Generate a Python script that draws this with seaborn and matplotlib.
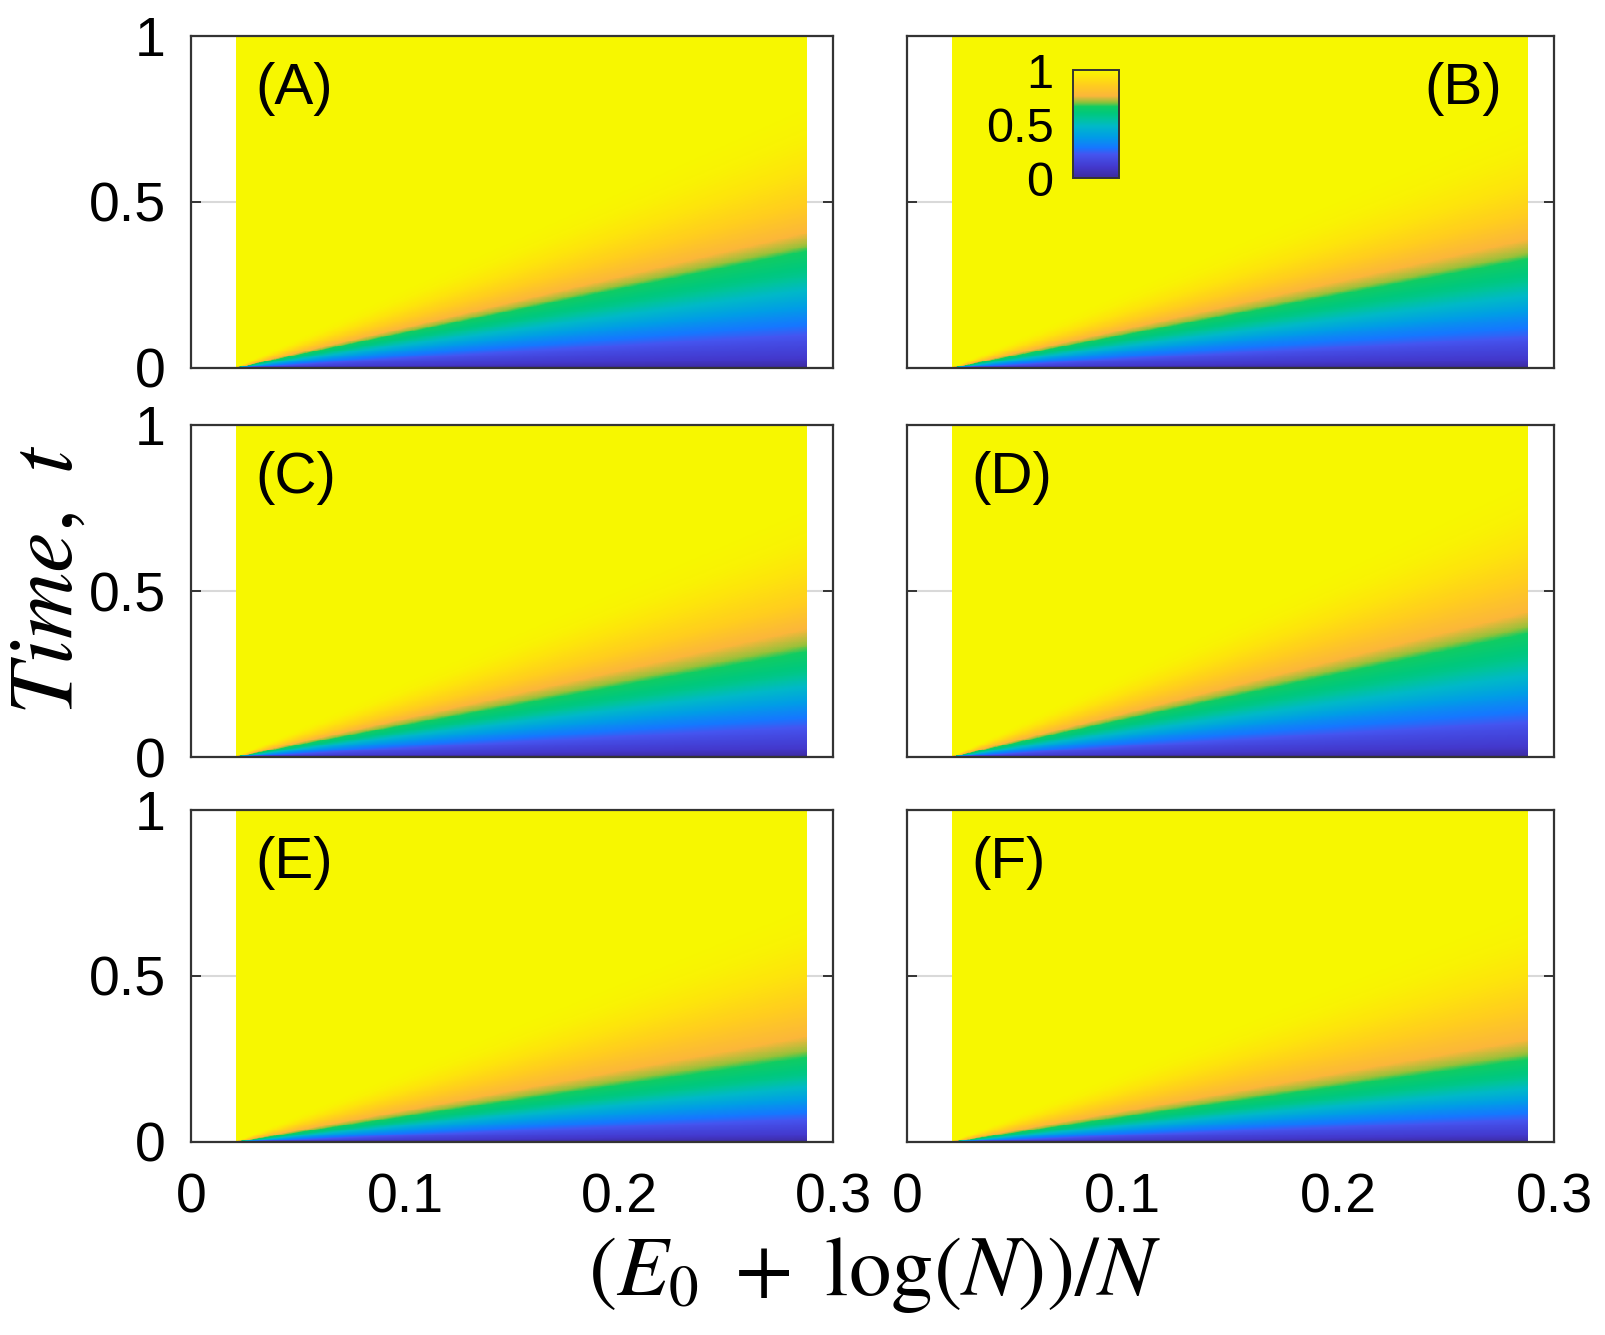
import numpy as np
import pandas as pd
import matplotlib
matplotlib.use("Agg")
import matplotlib.pyplot as plt
from matplotlib.colors import LinearSegmentedColormap
import seaborn as sns

# ---------------- data ----------------
panel_names = ["(A)", "(B)", "(C)", "(D)", "(E)", "(F)"]
# value levels of the field and the time at which each level is reached
# along the right edge of the data (x = 0.29) in each panel
levels = [0.0, 0.10, 0.18, 0.24, 0.33, 0.45, 0.58, 0.66, 0.71, 0.77, 0.86, 0.93, 0.98, 1.0]
t_A = [0, 0.030, 0.080, 0.110, 0.160, 0.220, 0.290, 0.355, 0.375, 0.420, 0.500, 0.600, 0.700, 0.800]
t_B = [0, 0.028, 0.074, 0.100, 0.150, 0.205, 0.270, 0.330, 0.350, 0.400, 0.470, 0.560, 0.660, 0.760]
t_C = [0, 0.027, 0.072, 0.100, 0.145, 0.200, 0.260, 0.320, 0.345, 0.400, 0.470, 0.570, 0.660, 0.760]
t_D = [0, 0.032, 0.085, 0.115, 0.170, 0.230, 0.305, 0.375, 0.400, 0.450, 0.540, 0.640, 0.740, 0.840]
t_E = [0, 0.022, 0.055, 0.075, 0.110, 0.155, 0.205, 0.256, 0.280, 0.330, 0.420, 0.520, 0.620, 0.720]
t_F = [0, 0.021, 0.054, 0.073, 0.108, 0.150, 0.200, 0.250, 0.272, 0.320, 0.410, 0.510, 0.610, 0.710]
panel_profiles = [t_A, t_B, t_C, t_D, t_E, t_F]

x_apex = 0.020
x_data_start = 0.021
x_data_end = 0.288
x_edge = 0.29

x_ticks = [0, 0.1, 0.2, 0.3]
x_tick_labels = ["0", "0.1", "0.2", "0.3"]
t_ticks = [0, 0.5, 1]
t_tick_labels = ["0", "0.5", "1"]
cbar_ticks = [0, 0.5, 1]
cbar_tick_labels = ["0", "0.5", "1"]

cmap_nodes = [0.0, 0.10, 0.22, 0.28, 0.38, 0.48, 0.55, 0.60, 0.66, 0.70, 0.76, 0.86, 0.94, 1.0]
cmap_colors = ["#3c2a9e", "#4338cc", "#4455f0", "#1577ff", "#009de6", "#00b8c8",
               "#00c49a", "#00c87c", "#10cc62", "#8cc23a", "#fbb63a", "#ffcd1e",
               "#fde60a", "#f7f700"]

# ---------------- style ----------------
sns.set_style("white")
plt.rcParams["font.family"] = ["Liberation Sans", "DejaVu Sans"]
plt.rcParams["mathtext.fontset"] = "stix"
plt.rcParams["text.color"] = "black"
plt.rcParams["xtick.color"] = "black"
plt.rcParams["ytick.color"] = "black"
plt.rcParams["xtick.labelcolor"] = "black"
plt.rcParams["ytick.labelcolor"] = "black"

cmap = LinearSegmentedColormap.from_list("parula_like", list(zip(cmap_nodes, cmap_colors)), N=512)

NX, NT = 600, 400
XMAX = 0.3
xs = (np.arange(NX) + 0.5) * XMAX / NX
ts = (np.arange(NT) + 0.5) / NT


def build_field(profile):
    X, T = np.meshgrid(xs, ts)
    inside = (X >= x_data_start) & (X <= x_data_end)
    dx = np.where(inside, X - x_apex, 1.0)
    t_equiv = T * (x_edge - x_apex) / dx
    Z = np.interp(t_equiv, profile, levels)
    Z = np.where(inside, Z, np.nan)
    return pd.DataFrame(Z)


fig = plt.figure(figsize=(16.05, 13.35), dpi=100)
W, H = 1605.0, 1335.0
col_left = [191 / W, 907 / W]
col_width = [642 / W, 647 / W]
row_bottom = [1 - 368 / H, 1 - 757 / H, 1 - 1142 / H]
row_h = 332 / H

axes = []
for i, (name, prof) in enumerate(zip(panel_names, panel_profiles)):
    r, c = divmod(i, 2)
    ax = fig.add_axes([col_left[c], row_bottom[r], col_width[c], row_h])
    df = build_field(prof)
    sns.heatmap(df, ax=ax, cmap=cmap, vmin=0, vmax=1, cbar=False,
                xticklabels=False, yticklabels=False)
    ax.set_xlim(0, NX)
    ax.set_ylim(0, NT)
    for s in ax.spines.values():
        s.set_visible(True)
        s.set_color("#333333")
        s.set_linewidth(1.6)
    ax.set_axisbelow(True)
    ax.set_yticks([v * NT for v in t_ticks])
    ax.set_yticklabels(t_tick_labels if c == 0 else [])
    ax.set_xticks([v / XMAX * NX for v in x_ticks])
    ax.set_xticklabels(x_tick_labels if r == 2 else [])
    ax.tick_params(axis="both", direction="in", length=7, width=1.4, color="#333333",
                   labelcolor="black", labelsize=40,
                   left=True, right=True, bottom=True, top=True)
    ax.tick_params(axis="y", pad=18)
    ax.tick_params(axis="x", pad=22)
    ax.yaxis.grid(True, color="#d9d9d9", linewidth=1.5)
    ax.xaxis.grid(False)
    ax.set_xlabel("")
    ax.set_ylabel("")
    if c == 0:
        ax.text(0.1, 0.84, name, transform=ax.transAxes, fontsize=42,
                ha="left", va="center", color="black")
    else:
        if i == 1:
            ax.text(0.92, 0.84, name, transform=ax.transAxes, fontsize=42,
                    ha="right", va="center", color="black")
        else:
            ax.text(0.1, 0.84, name, transform=ax.transAxes, fontsize=42,
                    ha="left", va="center", color="black")
    axes.append(ax)

# colour bar inside panel B
cax = fig.add_axes([1073 / W, 1 - 178 / H, 46 / W, 108 / H])
cb = fig.colorbar(axes[1].collections[0], cax=cax, ticks=cbar_ticks)
cb.set_ticklabels(cbar_tick_labels)
cax.yaxis.set_ticks_position("left")
cax.tick_params(length=0, labelsize=35, pad=14, labelcolor="black")
cb.outline.set_edgecolor("#333333")
cb.outline.set_linewidth(1.4)

fig.text(0.545, 0.045, r"$(E_0\ +\ \log(N))/N$", fontsize=61, ha="center", va="center")
fig.text(0.03, 0.566, r"$Time,\ t$", fontsize=66, ha="center", va="center",
         rotation=90)

fig.savefig("out.png", dpi=100)
